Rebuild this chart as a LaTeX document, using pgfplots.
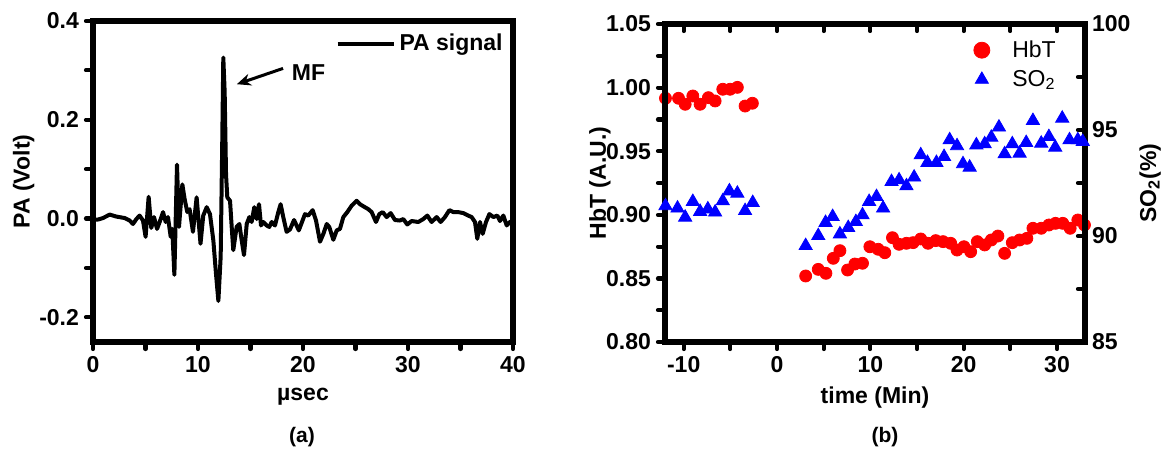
\documentclass[border=0pt]{standalone}
\usepackage{pgfplots}
\pgfplotsset{compat=1.18}
\usepackage{fontspec}
\setmainfont{Liberation Sans}
\usetikzlibrary{arrows.meta}

\pgfplotsset{
  panel/.style={
    scale only axis, width=210pt,
    axis line style={line width=2.6pt},
    tick style={line width=2.1pt, line cap=round, black},
    major tick length=3.5pt, minor tick length=3.5pt,
    tick label style={font=\bfseries\fontsize{11.5}{13}\selectfont},
    label style={font=\bfseries\fontsize{11.5}{13}\selectfont},
  },
}

\begin{document}
\begin{tikzpicture}
\useasboundingbox (0,0) rectangle (585.5pt,225pt);

% (a) PA signal
\begin{axis}[panel, at={(46.5pt,54pt)}, anchor=south west, height=160.5pt,
  xmin=0, xmax=40, ymin=-0.25, ymax=0.4,
  xtick={0,10,20,30,40}, xticklabels={0,10,20,30,40}, minor x tick num=1,
  ytick={-0.2,0,0.2,0.4}, yticklabels={-0.2,0.0,0.2,0.4}, minor y tick num=1,
  xtick pos=left, ytick pos=left, tick align=outside,
  xlabel={µsec}, ylabel={PA (Volt)},
  xlabel style={at={(axis description cs:0.5,0)}, yshift=-27.5pt, anchor=center},
  ylabel style={at={(axis description cs:-0.165,0.5)}, anchor=center},
  legend style={draw=none, fill=none, at={(axis description cs:1.0,0.985)}, anchor=north east,
    font=\bfseries\fontsize{11.5}{13}\selectfont},
  legend image code/.code={\draw[#1] (0pt,0pt) -- (28pt,0pt);},
]
\addplot[black, line width=2pt, line join=round] coordinates {
(0,-0.002) (0.48,-0.002) (0.95,0.001) (1.59,0.008) (2.22,0.004) (3.02,0.001)
(3.49,-0.004) (3.81,-0.011) (4.13,-0.001) (4.44,0.006) (4.76,-0.004) (5.01,-0.037)
(5.30,0.044) (5.55,-0.019) (5.81,0.003) (6.10,-0.021) (6.35,-0.007) (6.67,0.013)
(6.92,-0.007) (7.14,0.003) (7.40,-0.037) (7.55,-0.021) (7.75,-0.114) (8.00,0.109)
(8.19,-0.017) (8.51,0.069) (8.73,0.039) (8.98,0.013) (9.20,0.019) (9.52,-0.027)
(9.87,0.043) (10.24,-0.051) (10.50,0.006) (10.83,0.023) (11.14,0.009) (11.46,-0.044)
(11.71,-0.111) (11.94,-0.167) (12.16,-0.077) (12.31,0.156) (12.41,0.326) (12.54,0.256)
(12.67,0.089) (12.79,0.043) (13.05,0.036) (13.21,-0.017) (13.36,-0.064) (13.68,-0.017)
(13.94,-0.011) (14.16,-0.044) (14.38,-0.074) (14.64,-0.011) (14.89,0.003) (15.11,-0.007)
(15.36,0.023) (15.59,-0.001) (15.81,0.029) (16.00,-0.014) (16.22,-0.007) (16.54,-0.014)
(16.79,-0.017) (17.02,-0.007) (17.33,-0.014) (17.65,0.013) (17.87,0.029) (18.12,0.003)
(18.44,-0.027) (18.76,-0.022) (19.15,-0.003) (19.60,-0.024) (20.19,0.009) (20.50,0.006)
(20.92,0.017) (21.24,-0.004) (21.62,-0.047) (21.94,-0.031) (22.26,-0.011) (22.50,-0.017)
(22.89,-0.043) (23.21,-0.024) (23.52,-0.021) (23.84,0.003) (24.22,0.013) (24.63,0.026)
(25.11,0.036) (25.43,0.029) (25.81,0.024) (26.22,0.019) (26.54,0.013) (26.95,-0.007)
(27.27,0.009) (27.59,0.013) (27.97,0.003) (28.35,0.011) (28.76,-0.003) (29.24,-0.004)
(29.55,-0.001) (29.93,-0.012) (30.35,-0.005) (30.98,-0.007) (31.46,-0.001) (31.84,0.006)
(32.25,-0.007) (32.73,0.003) (33.11,-0.007) (33.52,0.003) (33.94,0.017) (34.32,0.013)
(34.79,0.013) (35.27,0.011) (35.74,0.006) (36.06,0.003) (36.38,-0.007) (36.60,-0.041)
(36.86,-0.007) (37.11,-0.031) (37.43,-0.007) (37.75,0.009) (38.13,0.003) (38.51,0.006)
(38.76,-0.005) (39.08,0.006) (39.40,-0.014) (39.71,-0.007) (40.00,-0.005)
};
\addlegendentry{PA signal}
\draw[-{Stealth[length=7pt,width=6pt]}, line width=1.5pt] (axis cs:18.1,0.304) -- (axis cs:13.7,0.272);
\node[anchor=west, inner sep=0pt, font=\bfseries\fontsize{11.5}{13}\selectfont] at (axis cs:18.9,0.296) {MF};
\end{axis}

% (b) HbT, left axis
\begin{axis}[panel, at={(332.5pt,54pt)}, anchor=south west, height=159pt,
  xmin=-12, xmax=33, ymin=0.8, ymax=1.05,
  xtick={-10,0,10,20,30}, xticklabels={-10,0,10,20,30}, minor x tick num=1,
  ytick={0.8,0.85,0.9,0.95,1.0,1.05}, yticklabels={0.80,0.85,0.90,0.95,1.00,1.05}, minor y tick num=1,
  xtick pos=left, ytick pos=left, tick align=outside,
  xlabel={time (Min)}, ylabel={HbT (A.U.)},
  xlabel style={at={(axis description cs:0.5,0)}, yshift=-28pt, anchor=center},
  ylabel style={at={(axis description cs:-0.155,0.5)}, anchor=center},
]
\addplot[only marks, mark=*, mark size=3pt, red, mark options={fill=red, draw=red}] coordinates {
(-11.95,0.9916) (-10.55,0.9916) (-9.84,0.9869) (-9.02,0.9934) (-8.24,0.9869) (-7.35,0.9921)
(-6.63,0.9895) (-5.81,0.9987) (-5.03,0.9987) (-4.25,1.0002) (-3.42,0.9855) (-2.64,0.9877)
(3.07,0.8519) (4.42,0.8571) (5.24,0.8540) (6.03,0.8658) (6.74,0.8718) (7.56,0.8566)
(8.34,0.8613) (9.16,0.8619) (9.95,0.8749) (10.84,0.8729) (11.55,0.8702) (12.37,0.8820)
(13.08,0.8768) (13.87,0.8776) (14.58,0.8781) (15.40,0.8810) (16.18,0.8776) (17.01,0.8797)
(17.79,0.8789) (18.61,0.8776) (19.29,0.8723) (20.03,0.8749) (20.75,0.8710) (21.46,0.8789)
(22.25,0.8763) (22.96,0.8802) (23.67,0.8833) (24.39,0.8697) (25.21,0.8781) (25.99,0.8802)
(26.77,0.8815) (27.42,0.8894) (28.31,0.8894) (29.13,0.8920) (29.84,0.8933) (30.62,0.8933)
(31.41,0.8894) (32.23,0.8959) (32.94,0.8920)
};
\end{axis}

% (b) SO2, right axis
\begin{axis}[panel, at={(332.5pt,54pt)}, anchor=south west, height=159pt,
  xmin=-12, xmax=33, ymin=85, ymax=100,
  xtick={-10,0,10,20,30}, xticklabels={}, minor x tick num=1,
  ytick={85,90,95,100}, yticklabels={85,90,95,100}, minor y tick num=1,
  xtick pos=right, ytick pos=right, yticklabel pos=right, tick align=inside,
  ylabel={SO\textsubscript{2}(\%)},
  every axis y label/.style={at={(axis description cs:1.155,0.5)}, anchor=center, rotate=90,
    font=\bfseries\fontsize{11.5}{13}\selectfont},
  legend style={draw=none, fill=none, at={(axis description cs:0.955,0.975)}, anchor=north east,
    font=\fontsize{11.5}{13}\selectfont, row sep=1pt},
  legend image code/.code={\path[#1] plot coordinates {(0pt,0pt)}; \path (-5pt,0pt) (13pt,0pt);},
]
\addlegendimage{only marks, mark=*, mark size=4pt, red, mark options={fill=red, draw=red}}
\addlegendentry{HbT}
\addplot[only marks, mark=triangle*, mark size=3.8pt, blue, mark options={fill=blue, draw=blue}] coordinates {
(-11.95,91.42) (-10.66,91.31) (-9.84,90.88) (-9.02,91.62) (-8.24,91.15) (-7.41,91.27)
(-6.63,91.12) (-5.81,91.65) (-5.10,92.12) (-4.25,92.01) (-3.42,91.19) (-2.60,91.57)
(3.07,89.54) (4.42,90.01) (5.20,90.63) (5.96,90.91) (6.74,90.09) (7.63,90.39)
(8.45,90.67) (9.16,90.99) (9.87,91.62) (10.66,91.85) (11.37,91.31) (12.27,92.56)
(13.08,92.64) (13.87,92.36) (14.69,92.77) (15.40,93.82) (16.12,93.46) (17.08,93.46)
(17.90,93.74) (18.50,94.53) (19.29,94.25) (19.93,93.40) (20.64,93.24) (21.36,94.29)
(22.25,94.34) (22.96,94.65) (23.78,95.13) (24.39,93.87) (25.21,94.34) (25.99,93.90)
(26.70,94.40) (27.42,95.44) (28.31,94.37) (29.13,94.68) (29.81,94.18) (30.56,95.55)
(31.34,94.53) (32.23,94.53) (32.76,94.45)
};
\addlegendentry{SO\textsubscript{2}}
\end{axis}

\node[font=\bfseries\fontsize{10.5}{12}\selectfont] at (151pt,6.5pt) {(a)};
\node[font=\bfseries\fontsize{10.5}{12}\selectfont] at (442.5pt,6.5pt) {(b)};
\end{tikzpicture}
\end{document}
